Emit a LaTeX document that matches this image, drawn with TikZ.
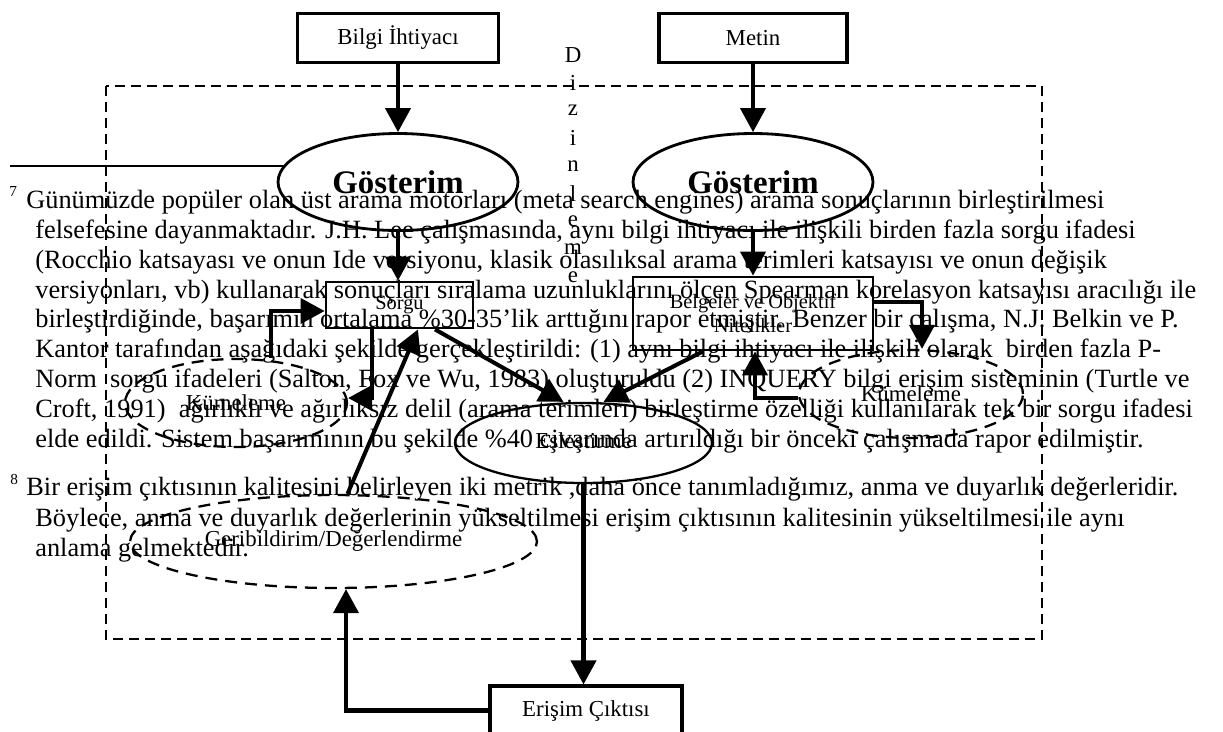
\documentclass[tikz,border=0pt]{standalone}
\usepackage{fontspec}
\setmainfont{Liberation Serif}
\usetikzlibrary{arrows.meta,shapes.geometric}
\begin{document}
\begin{tikzpicture}[x=0.02cm,y=-0.02cm,
    box/.style={draw,line width=1.8pt,fill=white,inner sep=0pt,font=\fontsize{13}{15}\selectfont},
    smallbox/.style={box,line width=1.6pt,align=center,font=\fontsize{11.6}{13.6}\selectfont},
    oval/.style={ellipse,draw,line width=1.6pt,fill=white,inner sep=0pt,font=\fontsize{13}{15}\selectfont},
    dashoval/.style={oval,line width=1.3pt,dash pattern=on 0.24cm off 0.16cm},
    flow/.style={line width=2.3pt,-{Triangle[length=0.48cm,width=0.5cm]}},
    fnline/.style={anchor=base west,inner sep=0pt,font=\fontsize{15}{17}\selectfont},
    fnmark/.style={anchor=base west,inner sep=0pt,font=\fontsize{8.7}{10}\selectfont},
    letter/.style={inner sep=0pt,font=\fontsize{13}{15}\selectfont}]
  \clip (0,0) rectangle (1223,731);
  \draw[line width=1pt,dash pattern=on 0.2cm off 0.12cm] (106,86) rectangle (1042,639);
  \draw[line width=1pt] (10,166) -- (330,166);

  \node[box,minimum width=4.02cm,minimum height=0.98cm] (bilgi) at (398,38) {Bilgi İhtiyacı};
  \node[box,minimum width=3.76cm,minimum height=0.98cm] (metin) at (753,38) {Metin};
  \foreach \c [count=\i] in {D,i,z,i,n,l,e,m,e}
    \node[letter] (diz\i) at (573,27+27.8*\i) {\c};
  \node[oval,minimum width=4.8cm,minimum height=1.94cm,font=\fontsize{18.7}{21}\selectfont\bfseries] (gost1) at (398,182) {Gösterim};
  \node[oval,minimum width=4.8cm,minimum height=1.94cm,font=\fontsize{18.7}{21}\selectfont\bfseries] (gost2) at (753,182) {Gösterim};
  \node[smallbox,minimum width=2.94cm,minimum height=0.92cm] (sorgu) at (399.5,305) {Sorgu};
  \node[smallbox,minimum width=4.8cm,minimum height=1.46cm] (belge) at (753,313.5) {Belgeler ve Objektif\\Nitelikler};
  \node[dashoval,minimum width=4.44cm,minimum height=1.76cm] (kume1) at (236,403) {Kümeleme};
  \node[dashoval,minimum width=4.48cm,minimum height=1.76cm] (kume2) at (911,394) {Kümeleme};
  \node[oval,line width=1.3pt,minimum width=5.14cm,minimum height=1.6cm] (eslest) at (583.5,443) {Eşleştirme};
  \node[dashoval,minimum width=8.14cm,minimum height=1.86cm] (geri) at (333.5,541.5) {Geribildirim/Değerlendirme};
  \node[box,minimum width=3.84cm,minimum height=0.98cm] (erisim) at (586,710.5) {Erişim Çıktısı};
  \coordinate (geriin) at ([xshift=0.25cm]geri.south);

  \draw[flow] (bilgi.south) -- (bilgi.south |- gost1.north);
  \draw[flow] (metin.south) -- (metin.south |- gost2.north);
  \draw[flow] (gost1.south) -- (gost1.south |- sorgu.north);
  \draw[flow] (gost2.south) -- (gost2.south |- belge.north);
  \draw[flow] ([xshift=0.7cm]kume1.north) |- ([yshift=-0.12cm]sorgu.west);
  \draw[flow] ([xshift=-0.55cm]sorgu.south) |- ([yshift=0.1cm]kume1.east);
  \draw[flow] ([xshift=0.71cm]sorgu.south) -- ([xshift=-0.4cm]eslest.north);
  \draw[flow] ([xshift=-1cm]belge.south) -- ([xshift=0.4cm]eslest.north);
  \draw[flow] ([yshift=0.23cm]belge.east) -| ([xshift=0.22cm]kume2.north);
  \draw[flow] ([yshift=-0.08cm]kume2.west) -| ([xshift=0.04cm]belge.south);
  \draw[flow] ([xshift=0.28cm]geri.north) -- ([xshift=0.37cm]sorgu.south);
  \draw[flow] (eslest.south) -- (eslest.south |- erisim.north);
  \draw[flow] (erisim.west) -| (geriin);

  \node[fnmark] (mark7) at (9,196) {7};
  \node[fnline] (fn7a) at (26,208.6) {Günümüzde popüler olan üst arama motorları (meta search engines) arama sonuçlarının birleştirilmesi};
  \node[fnline] (fn7b) at (35,238.4) {felsefesine dayanmaktadır. J.H. Lee çalışmasında, aynı bilgi ihtiyacı ile ilişkili birden fazla sorgu ifadesi};
  \node[fnline] (fn7c) at (35,268.2) {(Rocchio katsayası ve onun Ide versiyonu, klasik olasılıksal arama terimleri katsayısı ve onun değişik};
  \node[fnline] (fn7d) at (35,298) {versiyonları, vb) kullanarak sonuçları sıralama uzunluklarını ölçen Spearman korelasyon katsayısı aracılığı ile};
  \node[fnline] (fn7e) at (35,327.8) {birleştirdiğinde, başarımın ortalama \%30-35’lik arttığını rapor etmiştir. Benzer bir çalışma, N.J. Belkin ve P.};
  \node[fnline] (fn7f) at (35,357.6) {Kantor tarafından aşağıdaki şekilde gerçekleştirildi: (1) aynı bilgi ihtiyacı ile ilişkili olarak~ birden fazla P-};
  \node[fnline] (fn7g) at (35,387.4) {Norm~ sorgu ifadeleri (Salton, Fox ve Wu, 1983) oluşturuldu (2) INQUERY bilgi erişim sisteminin (Turtle ve};
  \node[fnline] (fn7h) at (35,417.2) {Croft, 1991)~ ağırlıklı ve ağırlıksız delil (arama terimleri) birleştirme özelliği kullanılarak tek bir sorgu ifadesi};
  \node[fnline] (fn7i) at (35,447) {elde edildi. Sistem başarımının bu şekilde \%40 civarında artırıldığı bir önceki çalışmada rapor edilmiştir.};
  \node[fnmark] (mark8) at (10,484) {8};
  \node[fnline] (fn8a) at (26,495.5) {Bir erişim çıktısının kalitesini belirleyen iki metrik ,daha önce tanımladığımız, anma ve duyarlık değerleridir.};
  \node[fnline] (fn8b) at (35,526.2) {Böylece, anma ve duyarlık değerlerinin yükseltilmesi erişim çıktısının kalitesinin yükseltilmesi ile aynı};
  \node[fnline] (fn8c) at (35,556.9) {anlama gelmektedir.};
\end{tikzpicture}
\end{document}
